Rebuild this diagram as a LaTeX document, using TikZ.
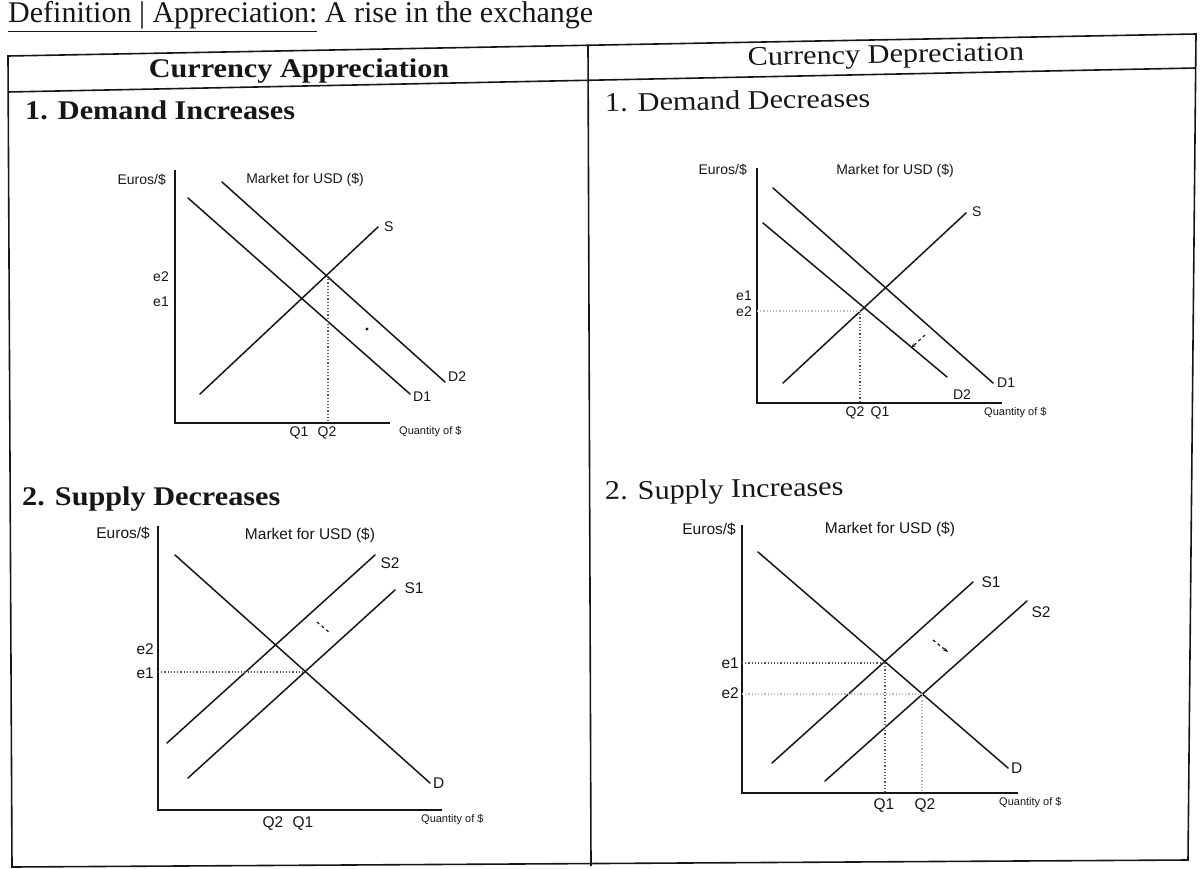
\documentclass[tikz,border=0pt]{standalone}
\usepackage{fontspec}
\setmainfont{Liberation Serif}
\newfontfamily\headfont[FakeStretch=1.12]{Liberation Serif}
\newfontfamily\chartfont{Liberation Sans}
\usepackage{tikz}
\usetikzlibrary{arrows.meta}
\definecolor{inkBlack}{HTML}{161616}
\definecolor{guideGray}{HTML}{5A5A5A}
\tikzset{
  tablerule/.style={draw=inkBlack, line width=1.6pt},
  deftxt/.style={font=\fontsize{30}{34}\selectfont, anchor=base west, inner sep=0pt, text=inkBlack},
  headA/.style={font=\headfont\fontsize{27}{31}\selectfont\bfseries, inner sep=0pt, text=inkBlack},
  headD/.style={font=\headfont\fontsize{27}{31}\selectfont, inner sep=0pt, text=inkBlack, rotate=1.1},
  curve/.style={draw=inkBlack, line width=1.5pt, line cap=round},
  axisline/.style={draw=inkBlack, line width=1.4pt},
  guide/.style={draw=guideGray, dotted, line width=1.2pt},
  shiftmark/.style={draw=inkBlack, dashed, line width=1.2pt, -{Stealth[length=5pt]}}
}

\begin{document}
\begin{tikzpicture}[x=1pt, y=-1pt,
  ctxt/.style={font=\chartfont\fontsize{14}{16}\selectfont, inner sep=1pt, text=inkBlack},
  btxt/.style={font=\chartfont\fontsize{15.5}{17}\selectfont, inner sep=1pt, text=inkBlack},
  qtxt/.style={font=\chartfont\fontsize{11}{13}\selectfont, inner sep=1pt, text=inkBlack}
]
\useasboundingbox (0,0) rectangle (1202,869);

\node[deftxt] (def) at (8,23) {\underline{Definition | Appreciation:} A rise in the exchange};

% table
\draw[tablerule] (8,56) -- (1196,34) -- (1188,860) -- (12,867) -- cycle;
\draw[tablerule] (8,92) -- (1196,68);
\draw[tablerule] (588,46) -- (591,866);

\node[headA, anchor=base] (appHead) at (299,78) {Currency Appreciation};
\node[headD, anchor=base] (depHead) at (886,63) {Currency Depreciation};
\node[headA, anchor=base west] (demInc) at (25,120) {1. Demand Increases};
\node[headD, anchor=base west] (demDec) at (605,112) {1. Demand Decreases};
\node[headA, anchor=base west] (supDec) at (22,505) {2. Supply Decreases};
\node[headD, anchor=base west] (supInc) at (605,500) {2. Supply Increases};

% 1. demand increases
\draw[axisline] (175,170) -- (175,423) -- (390,423);
\draw[curve] (188,198) -- (410,394);
\draw[curve] (222,182) -- (445,382);
\draw[curve] (200,394) -- (378,227);
\draw[guide] (328,276) -- (328,423);
\fill[inkBlack] (367,329) circle (1.6);
\node[ctxt, anchor=east] (aY) at (167,180) {Euros/\$};
\node[ctxt] (aTitle) at (305,180) {Market for USD (\$)};
\node[ctxt, anchor=west] (aS) at (383,227) {S};
\node[ctxt, anchor=west] (aD1) at (412,397) {D1};
\node[ctxt, anchor=west] (aD2) at (447,377) {D2};
\node[ctxt, anchor=east] (aE2) at (170,277) {e2};
\node[ctxt, anchor=east] (aE1) at (170,302) {e1};
\node[ctxt, anchor=north] (aQ1) at (299,426) {Q1};
\node[ctxt, anchor=north] (aQ2) at (327,426) {Q2};
\node[qtxt, anchor=west] (aX) at (398,432) {Quantity of \$};

% 1. demand decreases
\draw[axisline] (757,168) -- (757,403) -- (1002,403);
\draw[curve] (773,188) -- (993,383);
\draw[curve] (763,223) -- (947,377);
\draw[curve] (783,383) -- (966,213);
\draw[guide] (860,311) -- (860,403);
\draw[guide, draw=guideGray!40] (757,311) -- (860,311);
\draw[shiftmark] (925,335) -- (911,348);
\node[ctxt, anchor=east] (bY) at (748,170) {Euros/\$};
\node[ctxt] (bTitle) at (895,171) {Market for USD (\$)};
\node[ctxt, anchor=west] (bS) at (971,212) {S};
\node[ctxt, anchor=west] (bD1) at (996,383) {D1};
\node[ctxt] (bD2) at (962,395) {D2};
\node[ctxt, anchor=east] (bE1) at (753,296) {e1};
\node[ctxt, anchor=east] (bE2) at (753,312) {e2};
\node[ctxt, anchor=north] (bQ2) at (855,406) {Q2};
\node[ctxt, anchor=north] (bQ1) at (880,406) {Q1};
\node[qtxt, anchor=west] (bX) at (983,413) {Quantity of \$};

% 2. supply decreases
\draw[axisline] (158,526) -- (158,810) -- (442,810);
\draw[curve] (175,555) -- (430,783);
\draw[curve] (167,743) -- (375,555);
\draw[curve] (188,778) -- (395,590);
\draw[guide] (158,672) -- (303,672);
\draw[shiftmark, -] (317,622) -- (330,633);
\node[btxt, anchor=east] (cY) at (151,533) {Euros/\$};
\node[btxt] (cTitle) at (310,535) {Market for USD (\$)};
\node[btxt] (cS2) at (390,563) {S2};
\node[btxt] (cS1) at (414,588) {S1};
\node[btxt, anchor=west] (cD) at (432,783) {D};
\node[btxt, anchor=east] (cE2) at (155,649) {e2};
\node[btxt, anchor=east] (cE1) at (155,673) {e1};
\node[btxt, anchor=north] (cQ2) at (273,815) {Q2};
\node[btxt, anchor=north] (cQ1) at (303,815) {Q1};
\node[qtxt, anchor=west] (cX) at (420,820) {Quantity of \$};

% 2. supply increases
\draw[axisline] (742,525) -- (742,793) -- (1018,793);
\draw[curve] (758,552) -- (1008,768);
\draw[curve] (772,763) -- (973,582);
\draw[curve] (825,781) -- (1027,601);
\draw[guide] (742,663) -- (885,663);
\draw[guide, draw=guideGray!40] (742,694) -- (922,694);
\draw[guide] (885,663) -- (885,793);
\draw[guide, draw=guideGray!40] (922,694) -- (922,793);
\draw[shiftmark] (933,640) -- (948,652);
\node[btxt, anchor=east] (dY) at (737,529) {Euros/\$};
\node[btxt] (dTitle) at (890,529) {Market for USD (\$)};
\node[btxt] (dS1) at (991,582) {S1};
\node[btxt] (dS2) at (1041,612) {S2};
\node[btxt, anchor=west] (dD) at (1010,768) {D};
\node[btxt, anchor=east] (dE1) at (740,663) {e1};
\node[btxt, anchor=east] (dE2) at (740,693) {e2};
\node[btxt, anchor=north] (dQ1) at (884,797) {Q1};
\node[btxt, anchor=north] (dQ2) at (925,797) {Q2};
\node[qtxt, anchor=west] (dX) at (998,803) {Quantity of \$};
\end{tikzpicture}
\end{document}
